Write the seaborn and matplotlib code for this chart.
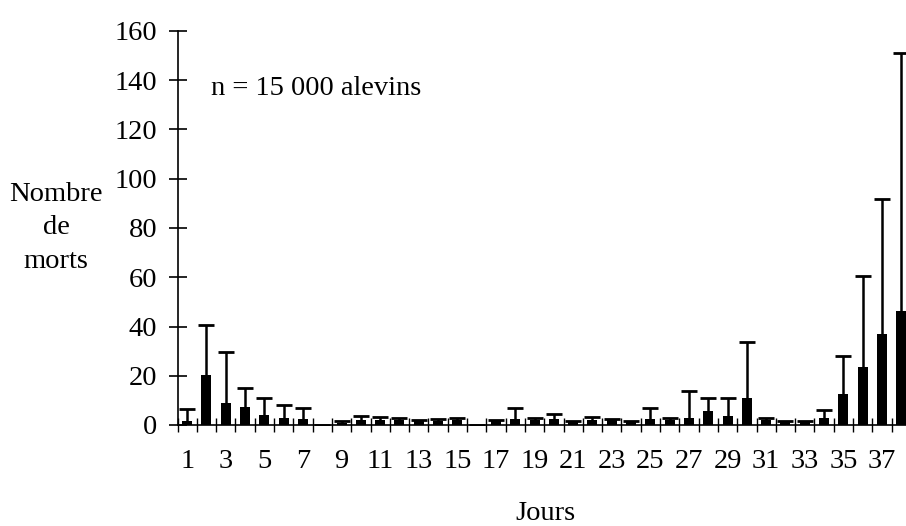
import numpy as np
import pandas as pd
import matplotlib
matplotlib.use("Agg")
import matplotlib.pyplot as plt
import seaborn as sns
from matplotlib.ticker import FixedLocator

days = list(range(1, 39))
morts = [1.6, 20.3, 9.0, 7.3, 4.0, 2.7, 2.3, 0.0, 1.0, 2.0, 2.0, 2.0, 1.5, 1.8, 2.0, 0.0,
         1.5, 2.4, 2.0, 2.4, 1.5, 2.0, 2.0, 1.5, 2.4, 2.0, 3.0, 5.7, 3.7, 11.1, 2.0, 1.5,
         1.5, 2.7, 12.6, 23.7, 37.0, 46.2]
morts_sup = [6.4, 40.7, 29.5, 15.0, 10.9, 8.0, 6.9, 0.0, 1.5, 3.8, 3.4, 3.0, 2.0, 2.5, 3.0, 0.0,
             2.0, 6.8, 3.0, 4.4, 1.5, 3.2, 2.5, 1.5, 6.8, 3.0, 13.9, 11.0, 10.9, 33.6, 3.0, 1.5,
             1.5, 6.0, 28.2, 60.4, 91.8, 150.9]
yticks = [0, 20, 40, 60, 80, 100, 120, 140, 160]
xtick_labels = [str(d) for d in days if d % 2 == 1]

sns.set_theme(style="white")
plt.rcParams['font.family'] = ['Liberation Serif', 'DejaVu Serif']

FS = 20.5

df = pd.DataFrame({"Jour": [str(d) for d in days], "Morts": morts})

fig = plt.figure(figsize=(9.06, 5.26), dpi=100)
ax = fig.add_axes([177.5 / 906, 1 - 425 / 526, 1 - 177.5 / 906, (425 - 31) / 526])

sns.barplot(data=df, x="Jour", y="Morts", color="black", width=0.52,
            saturation=1, errorbar=None, ax=ax, linewidth=0)

pos = np.arange(len(days))
lower = np.zeros(len(days))
upper = np.array(morts_sup) - np.array(morts)
eb = ax.errorbar(pos, morts, yerr=[lower, upper], fmt="none", ecolor="black",
                 elinewidth=1.8, capsize=6, capthick=2.0)
# keep only the upper caps
eb[1][0].set_visible(False)

ax.set_ylim(0, 160)
ax.set_xlim(-0.5, -0.5 + (906 - 177.5) / 19.3)
ax.set_yticks(yticks)
ax.set_yticklabels([str(t) for t in yticks])
ax.set_xticks(pos[::2])
ax.set_xticklabels(xtick_labels)
ax.xaxis.set_minor_locator(FixedLocator(np.arange(-0.5, len(days), 1.0)))

for s in ["top", "right"]:
    ax.spines[s].set_visible(False)
for s in ["left", "bottom"]:
    ax.spines[s].set_color("black")
    ax.spines[s].set_linewidth(1.2)

ax.tick_params(axis="x", which="major", length=0, pad=17, labelsize=FS, colors="black")
ax.tick_params(axis="x", which="minor", direction="inout", length=10, width=1.0,
               color="black", bottom=True)
ax.tick_params(axis="y", which="major", direction="inout", length=13, width=1.2,
               pad=8, labelsize=FS, colors="black", left=True)
ax.set_xlabel("")
ax.set_ylabel("")

ax.text(1.25, 160 * (425 - 95) / 394, "n = 15 000 alevins", fontsize=FS,
        ha="left", va="baseline", color="black")

fig.text(56 / 906, 1 - 228 / 526, "Nombre\nde\nmorts", fontsize=FS, ha="center",
         va="center", linespacing=1.45, color="black")
fig.text(545 / 906, 1 - 520 / 526, "Jours", fontsize=FS, ha="center",
         va="baseline", color="black")

fig.savefig("out.png", dpi=100)
